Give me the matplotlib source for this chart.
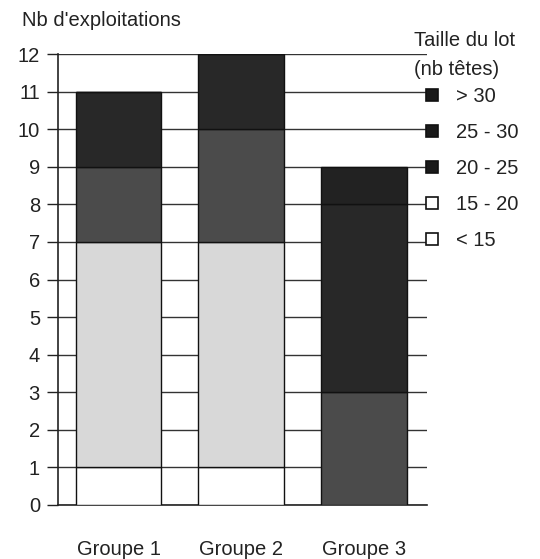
import matplotlib
matplotlib.use("Agg")
import matplotlib.pyplot as plt
from matplotlib.lines import Line2D

groups = ["Groupe 1", "Groupe 2", "Groupe 3"]
categories = ["< 15", "15 - 20", "20 - 25", "25 - 30", "> 30"]
values_lt15 = [1, 1, 0]
values_15_20 = [6, 6, 0]
values_20_25 = [2, 3, 3]
values_25_30 = [2, 2, 5]
values_gt30 = [0, 0, 1]
yticks = list(range(0, 13))

series = [values_lt15, values_15_20, values_20_25, values_25_30, values_gt30]
colors = ["#ffffff", "#d8d8d8", "#4b4b4b", "#282828", "#222222"]
legend_marker_face = ["#ffffff", "#ffffff", "#1a1a1a", "#1a1a1a", "#1a1a1a"]

plt.rcParams["font.family"] = ["Liberation Sans", "DejaVu Sans"]
FS = 14.5

fig = plt.figure(figsize=(5.4, 5.59), dpi=100)
ax = fig.add_axes([58 / 540, 54 / 559, (427 - 58) / 540, (505 - 54) / 559])

x = list(range(len(groups)))
bottom = [0] * len(groups)
for vals, col in zip(series, colors):
    ax.bar(x, vals, width=0.7, bottom=bottom, color=col, edgecolor="#111111",
           linewidth=1.0, zorder=3)
    bottom = [b + v for b, v in zip(bottom, vals)]

ax.set_xlim(-0.493, 2.513)
ax.set_ylim(0, 12)
ax.set_yticks(yticks)
ax.set_yticklabels([str(t) for t in yticks], fontsize=FS, color="#222222")
ax.set_xticks(x)
ax.set_xticklabels(groups, fontsize=FS, color="#222222")
ax.tick_params(axis="x", length=0, pad=25)
ax.tick_params(axis="y", direction="out", length=8, width=1.0, pad=5, color="#222222")
ax.yaxis.grid(True, color="#333333", linewidth=1.0, zorder=0)
ax.set_axisbelow(True)
for s in ["top", "right"]:
    ax.spines[s].set_visible(False)
ax.spines["left"].set_color("#222222")
ax.spines["bottom"].set_color("#222222")
ax.spines["left"].set_linewidth(1.2)
ax.spines["bottom"].set_linewidth(1.2)

fig.text(22 / 540, 1 - 20 / 559, "Nb d'exploitations", fontsize=FS, color="#222222",
         ha="left", va="center")

fig.text(414 / 540, 1 - 40 / 559, "Taille du lot", fontsize=FS, color="#222222",
         ha="left", va="center")
fig.text(414 / 540, 1 - 70 / 559, "(nb têtes)", fontsize=FS, color="#222222",
         ha="left", va="center")

handles = [Line2D([0], [0], marker="s", linestyle="none", markersize=9,
                  markerfacecolor=fc, markeredgecolor="#111111", markeredgewidth=1.2)
           for fc in legend_marker_face]
order = [4, 3, 2, 1, 0]
leg = fig.legend([handles[i] for i in order], [categories[i] for i in order],
                 loc="upper left", bbox_to_anchor=(409 / 540, 1 - 73 / 559),
                 frameon=False, fontsize=FS, labelspacing=0.84,
                 handletextpad=0.75, handlelength=0.9, borderpad=0.2)
for t in leg.get_texts():
    t.set_color("#222222")

fig.savefig("out.png", dpi=100)
